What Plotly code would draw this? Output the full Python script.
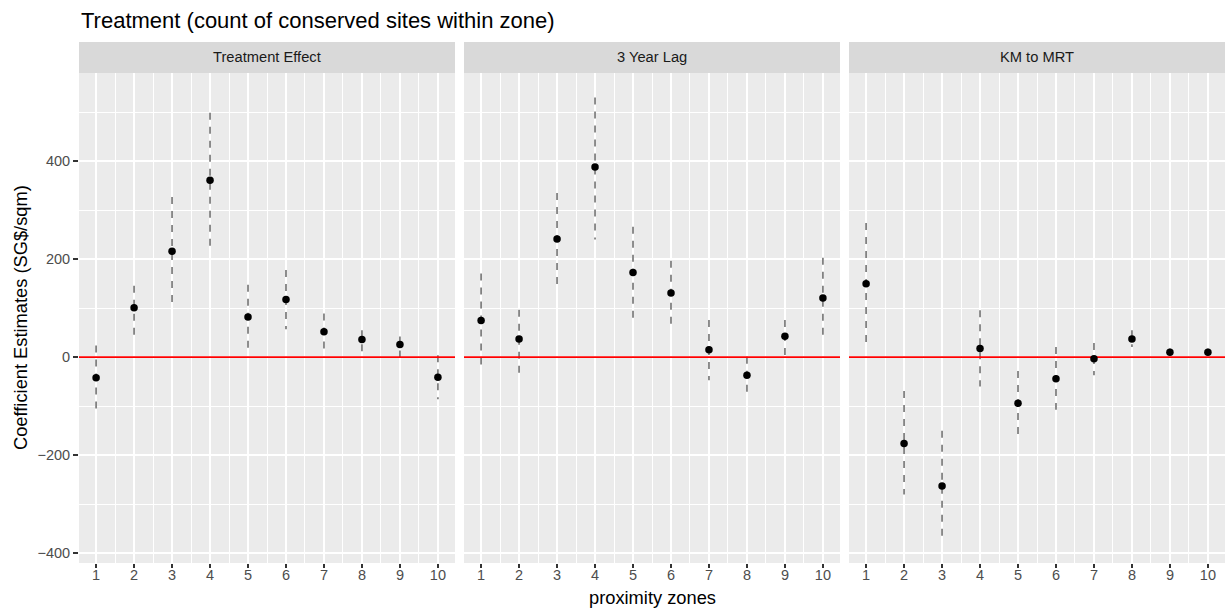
import plotly.graph_objects as go

# ---------------- data ----------------
zones = [1, 2, 3, 4, 5, 6, 7, 8, 9, 10]
panels = ["Treatment Effect", "3 Year Lag", "KM to MRT"]

te_est = [-42, 101, 216, 361, 82, 118, 52, 36, 26, -41]
te_lo = [-108, 40, 105, 223, 14, 57, 16, 9, -4, -86]
te_hi = [24, 146, 327, 499, 148, 178, 89, 55, 42, 4]

lag_est = [75, 37, 241, 388, 173, 131, 15, -37, 43, 121]
lag_lo = [-21, -38, 140, 240, 78, 64, -47, -76, 1, 40]
lag_hi = [171, 97, 335, 530, 266, 197, 76, 1, 76, 203]

km_est = [150, -176, -263, 18, -94, -44, -3, 37, 10, 10]
km_lo = [18, -280, -375, -60, -161, -107, -37, 21, -6, -6]
km_hi = [274, -69, -150, 96, -28, 21, 29, 55, 18, 18]

y_ticks = [-400, -200, 0, 200, 400]
y_ticklabels = ["\u2212400", "\u2212200", "0", "200", "400"]
y_minor = [-300, -100, 100, 300, 500]
x_minor = [1.5, 2.5, 3.5, 4.5, 5.5, 6.5, 7.5, 8.5, 9.5]

title = "Treatment (count of conserved sites within zone)"
x_title = "proximity zones"
y_title = "Coefficient Estimates (SG$/sqm)"

series = [(te_est, te_lo, te_hi), (lag_est, lag_lo, lag_hi), (km_est, km_lo, km_hi)]

# ---------------- layout geometry ----------------
W, H = 1225, 608
ML, MR, MT, MB = 79, 0, 73, 45
PW = W - ML - MR
PH = H - MT - MB
gap = 9
pw = (PW - 2 * gap) / 3
domains = [[(i * (pw + gap)) / PW, (i * (pw + gap) + pw) / PW] for i in range(3)]

FONT = "Liberation Sans, Arial, Helvetica, sans-serif"
x_range = [0.55, 10.45]
y_range = [-420, 580]

fig = go.Figure()

for i, (est, lo, hi) in enumerate(series):
    xa = "x" if i == 0 else f"x{i+1}"
    ya = "y"
    sx, sy = [], []
    for z, l, h in zip(zones, lo, hi):
        sx += [z, z, None]
        sy += [h, l, None]
    fig.add_trace(go.Scatter(x=sx, y=sy, mode="lines", xaxis=xa, yaxis=ya,
                             line=dict(color="#7A7A7A", width=1.7, dash="7px,7px"),
                             hoverinfo="skip", showlegend=False))
    fig.add_trace(go.Scatter(x=x_range, y=[0, 0], mode="lines", xaxis=xa, yaxis=ya,
                             line=dict(color="#FF0000", width=1.7),
                             hoverinfo="skip", showlegend=False))
    fig.add_trace(go.Scatter(x=zones, y=est, mode="markers", xaxis=xa, yaxis=ya,
                             marker=dict(color="black", size=7.5, line=dict(width=0)),
                             showlegend=False))

axis_common = dict(
    showgrid=True, gridcolor="white", gridwidth=1.8, zeroline=False,
    showline=False, ticks="outside", ticklen=5, tickwidth=1.8, tickcolor="#333333",
    tickfont=dict(family=FONT, size=14.5, color="#4D4D4D"),
)

layout = dict(
    width=W, height=H,
    margin=dict(l=ML, r=MR, t=MT, b=MB, pad=0),
    paper_bgcolor="white", plot_bgcolor="#EBEBEB",
    showlegend=False,
    font=dict(family=FONT),
)

for i in range(3):
    key = "xaxis" if i == 0 else f"xaxis{i+1}"
    layout[key] = dict(
        axis_common, domain=domains[i], range=x_range, anchor="y",
        tickmode="array", tickvals=zones, ticktext=[str(z) for z in zones],
        ticklen=4, ticklabelstandoff=-5,
        minor=dict(tickvals=x_minor, showgrid=True, gridcolor="white", gridwidth=0.9, ticks=""),
    )

layout["yaxis"] = dict(
    axis_common, domain=[0, 1], range=y_range, anchor="x",
    tickmode="array", tickvals=y_ticks, ticktext=y_ticklabels,
    minor=dict(tickvals=y_minor, showgrid=True, gridcolor="white", gridwidth=0.9, ticks=""),
)

fig.update_layout(**layout)

shapes = []
annotations = []
strip_h = 31 / PH
for i, name in enumerate(panels):
    x0, x1 = domains[i]
    if i > 0:
        shapes.append(dict(type="rect", xref="paper", yref="paper", x0=x0, x1=x1, y0=0, y1=1,
                           fillcolor="#EBEBEB", line=dict(width=0), layer="below"))
    shapes.append(dict(type="rect", xref="paper", yref="paper", x0=x0, x1=x1, y0=1, y1=1 + strip_h,
                       fillcolor="#D9D9D9", line=dict(width=0), layer="below"))
    annotations.append(dict(text=name, xref="paper", yref="paper", x=(x0 + x1) / 2,
                            y=1 + strip_h / 2, xanchor="center", yanchor="middle", showarrow=False,
                            font=dict(family=FONT, size=14.7, color="#1A1A1A")))

annotations.append(dict(text=title, xref="paper", yref="paper", x=0, y=1 + (MT - 20) / PH,
                        xanchor="left", yanchor="middle", showarrow=False,
                        font=dict(family=FONT, size=22, color="black")))
annotations.append(dict(text=x_title, xref="paper", yref="paper", x=0.5, y=-(597 - MT - PH) / PH,
                        xanchor="center", yanchor="middle", showarrow=False,
                        font=dict(family=FONT, size=18.3, color="black")))
annotations.append(dict(text=y_title, xref="paper", yref="paper", x=(20 - ML) / PW, y=0.5,
                        xanchor="center", yanchor="middle", showarrow=False, textangle=-90,
                        font=dict(family=FONT, size=18.3, color="black")))

fig.update_layout(shapes=shapes, annotations=annotations)
fig.write_html("out.html")
